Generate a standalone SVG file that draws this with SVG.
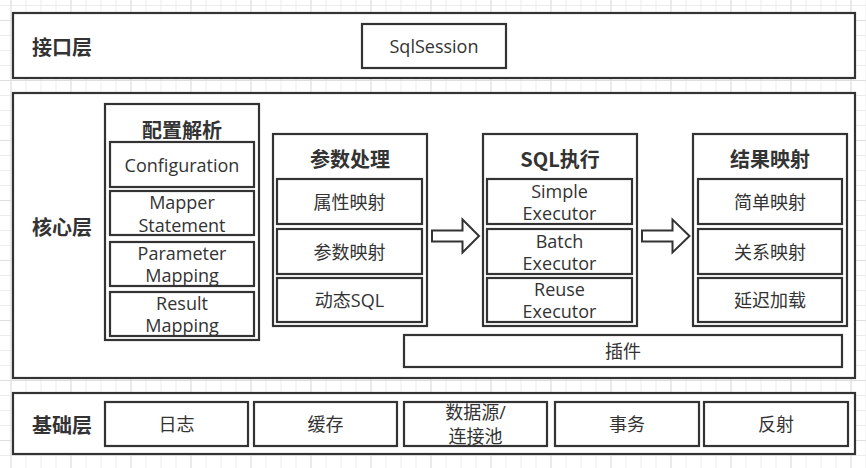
<svg xmlns="http://www.w3.org/2000/svg" width="866" height="468" viewBox="0 0 866 468">
<defs>
<pattern id="minor" width="15" height="15" patternUnits="userSpaceOnUse" x="10.5" y="5">
<path d="M0 0.5H15M0.5 0V15" fill="none" stroke="#ececec" stroke-width="1"/>
</pattern>
<pattern id="major" width="60" height="60" patternUnits="userSpaceOnUse" x="10.5" y="20">
<path d="M0 0.5H60M0.5 0V60" fill="none" stroke="#dedede" stroke-width="1"/>
</pattern>
</defs>
<style>
.layer{fill:#fff;stroke:#333;stroke-width:2.2}
.box{fill:#fff;stroke:#333;stroke-width:2.2}
.t{font-family:"Open Sans","Noto Sans CJK SC",sans-serif;font-size:18px;fill:#333;text-anchor:middle;dominant-baseline:central}
.b{font-family:"Noto Sans CJK SC","Open Sans",sans-serif;font-size:20px;font-weight:bold;fill:#333;text-anchor:middle;dominant-baseline:central}
.arrow{fill:#fff;stroke:#333;stroke-width:2}
</style>
<rect width="866" height="468" fill="#fff"/>
<rect width="866" height="468" fill="url(#minor)"/>
<rect width="866" height="468" fill="url(#major)"/>

<g id="interface-layer">
<rect class="layer" x="13" y="13" width="842" height="65"/>
<text class="b" x="62" y="46">接口层</text>
</g>
<g id="sqlsession">
<rect class="box" x="362" y="24" width="144" height="44"/>
<text class="t" x="434" y="46">SqlSession</text>
</g>

<g id="core-layer">
<rect class="layer" x="13" y="93" width="842" height="285"/>
<text class="b" x="62" y="226">核心层</text>
</g>

<g id="config-parse">
<rect class="box" x="105" y="104" width="154" height="236"/>
<text class="b" x="182" y="129">配置解析</text>
<rect class="box" x="110" y="142" width="144" height="45"/>
<text class="t" x="182" y="164.5">Configuration</text>
<rect class="box" x="110" y="191" width="144" height="44"/>
<text class="t" x="182" y="202">Mapper</text>
<text class="t" x="182" y="224.5">Statement</text>
<rect class="box" x="110" y="242" width="144" height="44"/>
<text class="t" x="182" y="252.5">Parameter</text>
<text class="t" x="182" y="275">Mapping</text>
<rect class="box" x="110" y="292" width="144" height="44"/>
<text class="t" x="182" y="302.5">Result</text>
<text class="t" x="182" y="325">Mapping</text>
</g>

<g id="param-process">
<rect class="box" x="273" y="134" width="154" height="192"/>
<text class="b" x="350" y="158">参数处理</text>
<rect class="box" x="277" y="179" width="145" height="45"/>
<text class="t" x="349.5" y="201.5">属性映射</text>
<rect class="box" x="277" y="229" width="145" height="45"/>
<text class="t" x="349.5" y="251.5">参数映射</text>
<rect class="box" x="277" y="278" width="145" height="44"/>
<text class="t" x="349.5" y="300">动态SQL</text>
</g>

<g id="sql-exec">
<rect class="box" x="483" y="134" width="154" height="192"/>
<text class="b" x="560" y="158">SQL执行</text>
<rect class="box" x="487" y="179" width="145" height="45"/>
<text class="t" x="559.5" y="190.5">Simple</text>
<text class="t" x="559.5" y="213">Executor</text>
<rect class="box" x="487" y="229" width="145" height="45"/>
<text class="t" x="559.5" y="240.5">Batch</text>
<text class="t" x="559.5" y="263">Executor</text>
<rect class="box" x="487" y="278" width="145" height="44"/>
<text class="t" x="559.5" y="288.5">Reuse</text>
<text class="t" x="559.5" y="311">Executor</text>
</g>

<g id="result-map">
<rect class="box" x="693" y="134" width="154" height="192"/>
<text class="b" x="770" y="158">结果映射</text>
<rect class="box" x="698" y="179" width="144" height="45"/>
<text class="t" x="770" y="201.5">简单映射</text>
<rect class="box" x="698" y="229" width="144" height="45"/>
<text class="t" x="770" y="251.5">关系映射</text>
<rect class="box" x="698" y="278" width="144" height="44"/>
<text class="t" x="770" y="300">延迟加载</text>
</g>

<g id="plugin">
<rect class="box" x="404" y="335" width="438" height="32"/>
<text class="t" x="623" y="351">插件</text>
</g>

<g id="connectors">
<path class="arrow" d="M432 230.5H462.5V219.5L479 236L462.5 252.5V241.5H432Z"/>
<path class="arrow" d="M642 230.5H672.5V219.5L689.5 236L672.5 252.5V241.5H642Z"/>
</g>

<g id="base-layer">
<rect class="layer" x="13" y="393" width="842" height="61"/>
<text class="b" x="62" y="424">基础层</text>
</g>
<g id="log">
<rect class="box" x="105" y="402" width="143" height="44"/>
<text class="t" x="176.5" y="424">日志</text>
</g>
<g id="cache">
<rect class="box" x="254" y="402" width="143" height="44"/>
<text class="t" x="325.5" y="424">缓存</text>
</g>
<g id="datasource">
<rect class="box" x="404" y="402" width="143" height="44"/>
<text class="t" x="475.5" y="412">数据源/</text>
<text class="t" x="475.5" y="436">连接池</text>
</g>
<g id="transaction">
<rect class="box" x="555" y="402" width="144" height="44"/>
<text class="t" x="627" y="424">事务</text>
</g>
<g id="reflection">
<rect class="box" x="704" y="402" width="144" height="44"/>
<text class="t" x="776" y="424">反射</text>
</g>
</svg>
